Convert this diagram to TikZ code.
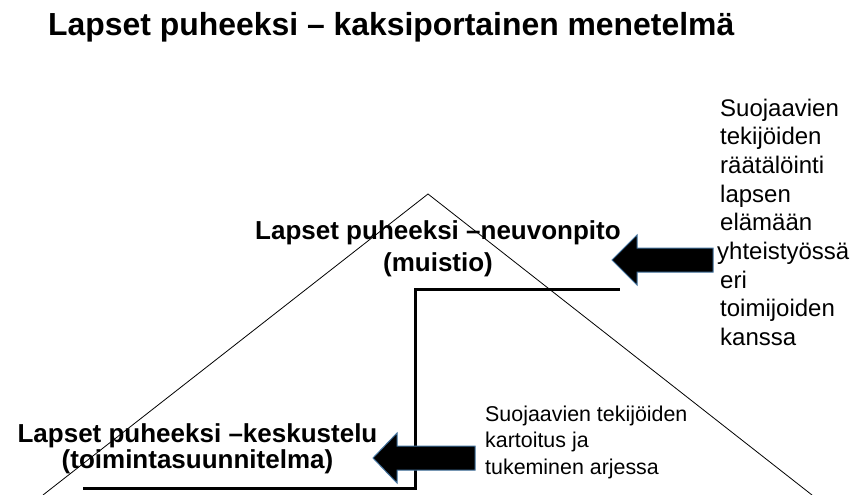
\documentclass[tikz,border=0pt]{standalone}
\usepackage{fontspec}
\setmainfont{Liberation Sans}
\definecolor{arrowblue}{RGB}{65,113,156}
\begin{document}
\begin{tikzpicture}[x=1pt,y=-1pt,
      steptext/.style={font=\bfseries\fontsize{26}{32}\selectfont,
            align=center,anchor=base,inner sep=0pt},
      sidetext/.style={font=\fontsize{21.4}{26.5}\selectfont,
            align=left,anchor=base west,inner sep=0pt},
      blockarrow/.style={fill=black,draw=arrowblue,line width=1pt}]
      \useasboundingbox (0,0) rectangle (854,495);

      \node[font=\bfseries\fontsize{31.9}{36}\selectfont,anchor=base west,
            inner sep=0pt] (title) at (48,36)
            {Lapset puheeksi – kaksiportainen menetelmä};

      % pyramid
      \draw[line width=0.8pt] (43,495) -- (428,194) -- (812,495);

      % steps
      \draw[line width=3pt] (83,488) -- (415,488) -- (415,289) -- (620,289);

      % base anchor = last line
      \node[steptext] (neuvonpito) at (438,239+32)
            {Lapset puheeksi –neuvonpito\\(muistio)};
      \node[steptext,font=\bfseries\fontsize{26}{26.5}\selectfont]
            (keskustelu) at (197.5,442+26.5)
            {Lapset puheeksi –keskustelu\\(toimintasuunnitelma)};

      \draw[blockarrow] (612,260) -- (612+25,260-25) -- (612+25,260-12)
            -- (713,260-12) -- (713,260+12) -- (612+25,260+12)
            -- (612+25,260+25) -- cycle;
      \draw[blockarrow] (373,458) -- (373+24,458-25) -- (373+24,458-12)
            -- (475,458-12) -- (475,458+12) -- (373+24,458+12)
            -- (373+24,458+25) -- cycle;

      \node[sidetext,font=\fontsize{24}{28.7}\selectfont]
            (raatalointi) at (720,116+8*28.7)
            {Suojaavien\\tekijöiden\\räätälöinti\\lapsen\\elämään\\
             \hspace*{-3pt}yhteistyössä\\eri\\toimijoiden\\kanssa};
      \node[sidetext] (kartoitus) at (485,421+2*26.5)
            {Suojaavien tekijöiden\\kartoitus ja\\tukeminen arjessa};
\end{tikzpicture}
\end{document}
